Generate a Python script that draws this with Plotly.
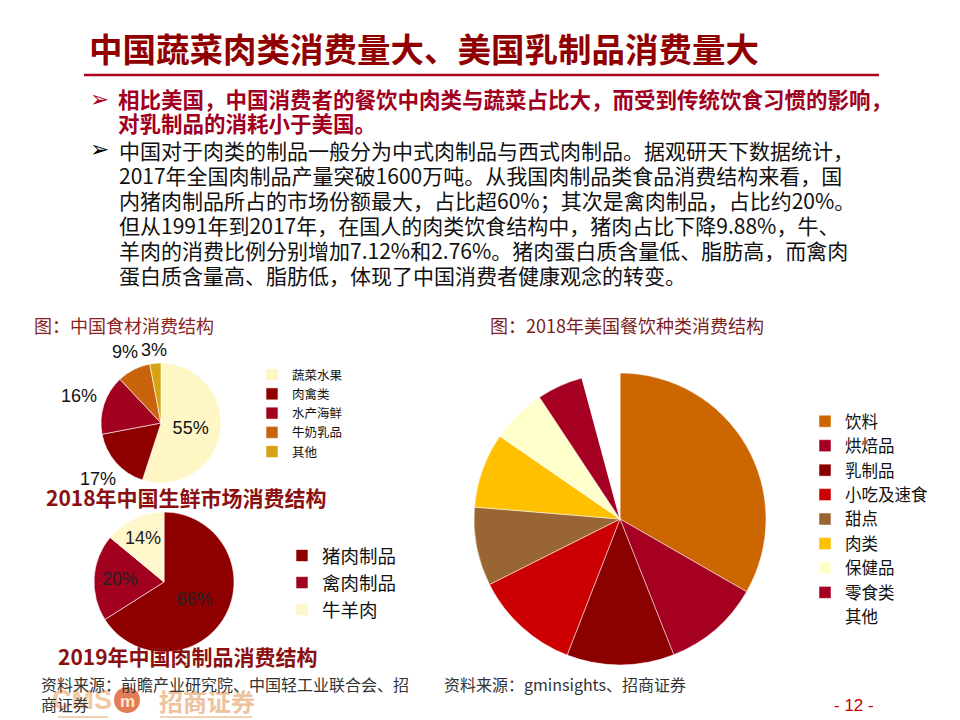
import math
import plotly.graph_objects as go

W, H = 960, 720

# ---------------- data ----------------
fresh_labels = ["蔬菜水果", "肉禽类", "水产海鲜", "牛奶乳品", "其他"]
fresh_values = [55, 17, 16, 9, 3]
fresh_colors = ["#FFF6C6", "#8E0000", "#A2001F", "#CA640C", "#D6A214"]
fresh_inside = [True, False, False, False, False]

meat_labels = ["猪肉制品", "禽肉制品", "牛羊肉"]
meat_values = [66, 20, 14]
meat_colors = ["#8E0000", "#A2001F", "#FFF7CC"]

us_labels = ["饮料", "烘焙品", "乳制品", "小吃及速食", "甜点", "肉类", "保健品", "零食类", "其他 "]
us_values = [33.3, 10.7, 11.9, 11.7, 8.7, 8.3, 6.1, 5.1, 4.2]
us_colors = ["#CC6600", "#A50021", "#8B0000", "#CC0000", "#996633", "#FFC000", "#FFFFCC", "#A50021", "#FFFFFF"]

title_text = "中国蔬菜肉类消费量大、美国乳制品消费量大"
red_lines = [
    "相比美国，中国消费者的餐饮中肉类与蔬菜占比大，而受到传统饮食习惯的影响，",
    "对乳制品的消耗小于美国。",
]
body_lines = [
    "中国对于肉类的制品一般分为中式肉制品与西式肉制品。据观研天下数据统计，",
    "2017年全国肉制品产量突破1600万吨。从我国肉制品类食品消费结构来看，国",
    "内猪肉制品所占的市场份额最大，占比超60%；其次是禽肉制品，占比约20%。",
    "但从1991年到2017年，在国人的肉类饮食结构中，猪肉占比下降9.88%，牛、",
    "羊肉的消费比例分别增加7.12%和2.76%。猪肉蛋白质含量低、脂肪高，而禽肉",
    "蛋白质含量高、脂肪低，体现了中国消费者健康观念的转变。",
]

CJK = "Noto Sans CJK SC"
ARIAL = "Liberation Sans, Arial"
DARKRED = "#900000"


def px(x):
    return x / W


def py(y):
    return 1 - y / H


def dom(cx, cy, r):
    return dict(x=[px(cx - r), px(cx + r)], y=[py(cy + r), py(cy - r)])


P1 = (161, 423, 60)

fig = go.Figure()

# Pie 1: 中国食材消费结构
total1 = sum(fresh_values)
fig.add_trace(go.Pie(
    labels=fresh_labels, values=fresh_values, sort=False, direction="clockwise", rotation=0,
    marker=dict(colors=fresh_colors, line=dict(color="#ffffff", width=0.6)),
    text=["%d%%" % round(v * 100 / total1) if ins else "" for v, ins in zip(fresh_values, fresh_inside)],
    textinfo="text", textposition="inside", insidetextorientation="horizontal",
    textfont=dict(family=ARIAL, size=18, color="#111111"),
    domain=dom(*P1), legend="legend", hoverinfo="skip",
))

# Pie 2: 2019年中国肉制品消费结构
fig.add_trace(go.Pie(
    labels=meat_labels, values=meat_values, sort=False, direction="clockwise", rotation=0,
    marker=dict(colors=meat_colors, line=dict(color="#ffffff", width=0.6)),
    texttemplate="%{percent:.0%}", textposition="inside", insidetextorientation="horizontal",
    textfont=dict(family=ARIAL, size=18, color="#222222"),
    domain=dom(164, 582, 70), legend="legend2", hoverinfo="skip",
))

# Pie 3: 2018年美国餐饮种类消费结构
fig.add_trace(go.Pie(
    labels=us_labels, values=us_values, sort=False, direction="clockwise", rotation=0,
    marker=dict(colors=us_colors, line=dict(color="#ffffff", width=0.5)),
    textinfo="none", domain=dom(620, 519, 146), legend="legend3", hoverinfo="skip",
))

annotations = []


def txt(x, y, s, size, color="#000000", bold=False, family=CJK, anchor="left"):
    annotations.append(dict(
        x=px(x), y=py(y), xref="paper", yref="paper", text=("<b>%s</b>" % s) if bold else s,
        showarrow=False, xanchor=anchor, yanchor="middle",
        font=dict(family=family, size=size, color=color),
    ))


# outside percentage labels for pie 1, placed from the slice mid-angles
cx, cy, r = P1
cum = 0.0
for v, ins in zip(fresh_values, fresh_inside):
    mid = (cum + v / 2) / total1 * 2 * math.pi
    cum += v
    if ins:
        continue
    dx, dy = math.sin(mid), -math.cos(mid)
    dist = r + 4 + abs(dx) * 21 + abs(dy) * 7
    txt(cx + dist * dx, cy + dist * dy, "%d%%" % round(v * 100 / total1), 18, "#111111",
        family=ARIAL, anchor="center")

# logo (drawn first so text sits on top)
txt(50, 700, "CMS", 27, "#F1C9A2", bold=True, family=ARIAL)
txt(127, 701, "m", 17, "#FFE8D0", bold=True, family=ARIAL, anchor="center")
txt(157, 700, "招商证券", 24, "#EDC29C", bold=True)

# title
txt(87, 48, title_text, 33.5, DARKRED, bold=True)

# bullets
txt(88, 99, "➢", 23, "#B0002A", family="DejaVu Sans")
txt(88, 149, "➢", 23, "#000000", family="DejaVu Sans")
for i, s in enumerate(red_lines):
    txt(116, 99 + 23.5 * i, s, 21.5, "#A0001E", bold=True)
for i, s in enumerate(body_lines):
    txt(117, 150 + 25 * i, s, 21, "#111111")

# captions
txt(32, 325, "图：中国食材消费结构", 18, "#8B2323")
txt(488, 325, "图：2018年美国餐饮种类消费结构", 18, "#7A1F1F")
txt(44, 497, "2018年中国生鲜市场消费结构", 21, "#8B1010", bold=True)
txt(56, 656, "2019年中国肉制品消费结构", 21, "#8B1010", bold=True)

# sources
txt(39, 684, "资料来源：前瞻产业研究院、中国轻工业联合会、招", 16, "#333333")
txt(39, 704, "商证券", 16, "#333333")
txt(442, 684, "资料来源：gminsights、招商证券", 16, "#333333")
txt(832, 705, "- 12 -", 17, "#C00000", family=ARIAL)

shapes = [
    dict(type="line", xref="paper", yref="paper", x0=px(84), x1=px(879), y0=py(75), y1=py(75),
         line=dict(color="#B00020", width=2.5)),
    dict(type="circle", xref="paper", yref="paper", x0=px(114), x1=px(140), y0=py(713), y1=py(687),
         fillcolor="rgba(215,80,30,0.75)", line=dict(width=0), layer="below"),
    dict(type="line", xref="paper", yref="paper", x0=px(58), x1=px(108), y0=py(717), y1=py(717),
         line=dict(color="#F0D2B4", width=2)),
    dict(type="line", xref="paper", yref="paper", x0=px(160), x1=px(252), y0=py(717), y1=py(717),
         line=dict(color="#F0D2B4", width=2)),
]

fig.update_layout(
    width=W, height=H, margin=dict(l=0, r=0, t=0, b=0),
    paper_bgcolor="#ffffff", plot_bgcolor="#ffffff",
    annotations=annotations, shapes=shapes,
    uniformtext=dict(mode="show", minsize=18),
    legend=dict(x=px(252), y=py(360), xanchor="left", yanchor="top", bgcolor="rgba(0,0,0,0)",
                font=dict(family=CJK, size=12.5, color="#111111"), traceorder="normal"),
    legend2=dict(x=px(282), y=py(537), xanchor="left", yanchor="top", bgcolor="rgba(0,0,0,0)",
                 font=dict(family=CJK, size=18.5, color="#111111"), traceorder="normal"),
    legend3=dict(x=px(805), y=py(404), xanchor="left", yanchor="top", bgcolor="rgba(0,0,0,0)",
                 font=dict(family=CJK, size=16.5, color="#111111"), traceorder="normal"),
)

fig.write_html("out.html")
